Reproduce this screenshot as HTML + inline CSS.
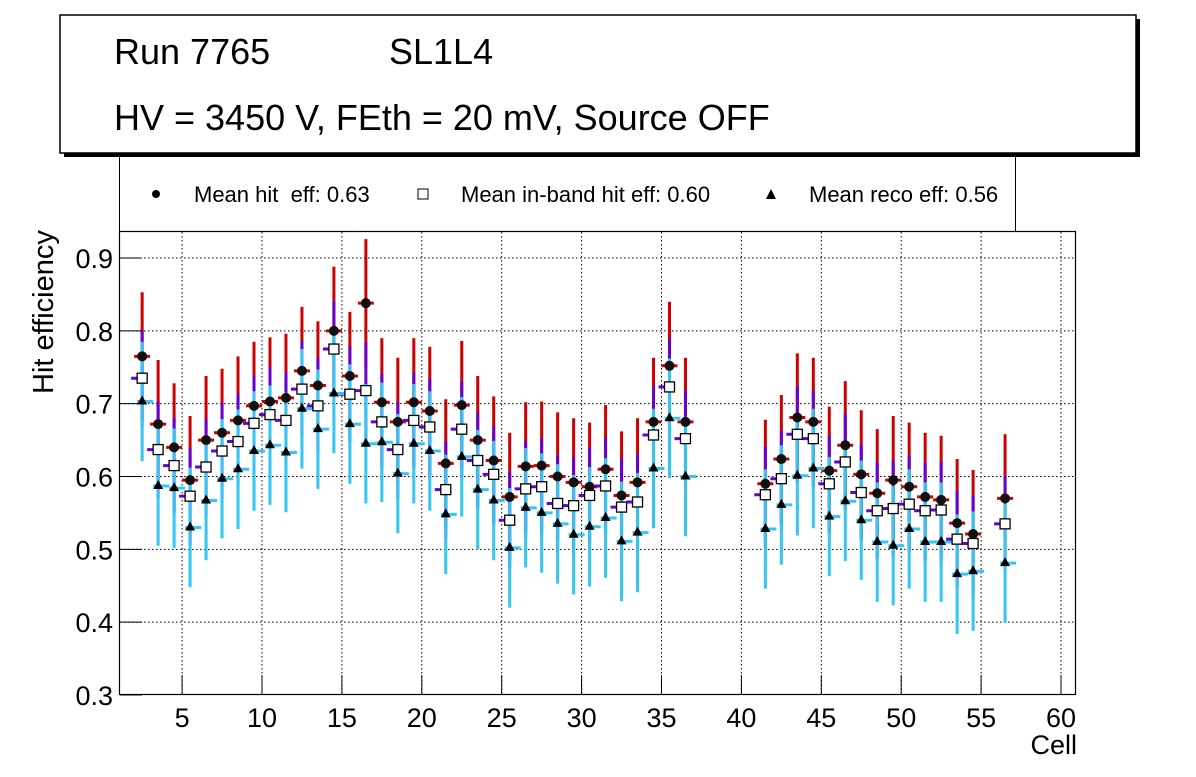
<!DOCTYPE html>
<html><head><meta charset="utf-8"><style>
html,body{margin:0;padding:0;background:#fff;}
svg text{font-family:"Liberation Sans",sans-serif;}
</style></head><body>
<svg id="c" width="1196" height="772" viewBox="0 0 1196 772" xmlns="http://www.w3.org/2000/svg">
<rect x="0" y="0" width="1196" height="772" fill="#fff"/>
<g>
<rect x="64" y="19" width="1076" height="138" fill="#000"/>
<rect x="60" y="15" width="1076" height="138" fill="#fff" stroke="#000" stroke-width="1.5"/>
<text x="114" y="64" font-size="36">Run 7765</text>
<text x="389" y="64" font-size="36">SL1L4</text>
<text x="114" y="130" font-size="36">HV = 3450 V, FEth = 20 mV, Source OFF</text>
</g>
<g>
<path d="M119.5 157 V231.5 H1015.5 V157" fill="none" stroke="#000" stroke-width="1"/>
<g><circle cx="156" cy="194" r="4" fill="#000"/><text x="194" y="202" font-size="22">Mean hit&#160; eff: 0.63</text></g>
<g><rect x="418" y="189" width="10" height="10" fill="#fff" stroke="#000"/><text x="461" y="202" font-size="22">Mean in-band hit eff: 0.60</text></g>
<g><polygon points="771,189 766,199 776,199" fill="#000"/><text x="809" y="202" font-size="22">Mean reco eff: 0.56</text></g>
</g>
<g id="grid"></g>
<g id="marks"></g>
<rect x="119.5" y="231.5" width="956" height="463" fill="none" stroke="#000" stroke-width="1.2"/>
<g id="axes"></g>
<text transform="translate(53,394) rotate(-90)" font-size="29">Hit efficiency</text>
<text x="1077" y="754" font-size="27" text-anchor="end">Cell</text>
</svg>
<script>
const cellsA=[2.5,3.5,4.5,5.5,6.5,7.5,8.5,9.5,10.5,11.5,12.5,13.5,14.5,15.5,16.5,17.5,18.5,19.5,20.5,21.5,22.5,23.5,24.5,25.5,26.5,27.5,28.5,29.5,30.5,31.5,32.5,33.5,34.5,35.5,36.5,41.5,42.5,43.5,44.5,45.5,46.5,47.5,48.5,49.5,50.5,51.5,52.5,53.5,54.5,56.5];
const hitEff=[0.765,0.672,0.64,0.595,0.65,0.66,0.677,0.697,0.703,0.708,0.745,0.725,0.80,0.738,0.838,0.702,0.675,0.702,0.69,0.618,0.698,0.65,0.622,0.572,0.614,0.615,0.60,0.592,0.586,0.61,0.574,0.592,0.675,0.752,0.675,0.59,0.624,0.681,0.675,0.608,0.643,0.603,0.577,0.595,0.586,0.572,0.568,0.536,0.521,0.57];
const inbandEff=[0.735,0.637,0.615,0.573,0.613,0.635,0.648,0.673,0.685,0.677,0.72,0.697,0.775,0.713,0.718,0.675,0.637,0.677,0.668,0.582,0.665,0.622,0.603,0.54,0.583,0.586,0.563,0.56,0.574,0.587,0.558,0.565,0.657,0.723,0.652,0.575,0.597,0.658,0.652,0.59,0.62,0.578,0.553,0.556,0.562,0.553,0.554,0.514,0.508,0.535];
const recoEff=[0.703,0.587,0.584,0.53,0.567,0.597,0.61,0.635,0.643,0.633,0.693,0.665,0.714,0.672,0.645,0.647,0.604,0.645,0.635,0.548,0.627,0.582,0.567,0.502,0.557,0.55,0.535,0.52,0.531,0.543,0.511,0.523,0.611,0.68,0.6,0.528,0.561,0.601,0.611,0.545,0.566,0.54,0.51,0.505,0.528,0.51,0.51,0.466,0.47,0.481];
const hitErr=0.088, inbandErr=0.066, recoErr=0.082;
const xTicks=[5,10,15,20,25,30,35,40,45,50,55,60];
const yTicks=[0.3,0.4,0.5,0.6,0.7,0.8,0.9];
const NS="http://www.w3.org/2000/svg";
function X(v){return 102.2+v*15.98;}
function Y(v){return 695-(v-0.3)*728.3;}
function mk(t,a,p){const e=document.createElementNS(NS,t);for(const k in a)e.setAttribute(k,a[k]);p.appendChild(e);return e;}
const grid=document.getElementById('grid'),axes=document.getElementById('axes'),marks=document.getElementById('marks');
xTicks.forEach(t=>{const x=X(t);
 const g=mk('line',{x1:x,x2:x,y1:232,y2:694,stroke:'#000','stroke-width':1,'stroke-dasharray':'1.5,2.5'},grid);
 
 
 const l=mk('line',{x1:x,x2:x,y1:694,y2:675,stroke:'#000','stroke-width':1},axes);
 
 
 const tx=mk('text',{x:x,y:727,'font-size':27,'text-anchor':'middle'},axes);tx.textContent=t;
 
 
});
yTicks.forEach(t=>{const y=Y(t);
 if(t>0.3){const g=mk('line',{x1:120,x2:1075,y1:y,y2:y,stroke:'#000','stroke-width':1,'stroke-dasharray':'1.5,2.5'},grid);
 
 }
 const l=mk('line',{x1:120,x2:142,y1:y,y2:y,stroke:'#000','stroke-width':1},axes);
 
 
 const tx=mk('text',{x:113,y:y+10,'font-size':27,'text-anchor':'end'},axes);tx.textContent=t.toFixed(1);
 
 
});
const series=[{v:hitEff,e:hitErr,c:'#d00000',dx:0,name:'hit'},{v:inbandEff,e:inbandErr,c:'#6a00d0',dx:-3,name:'inband'},{v:recoEff,e:recoErr,c:'#33c6f5',dx:3,name:'reco'}];
series.forEach(s=>{s.v.forEach((v,i)=>{const x=X(cellsA[i]),y=Y(v);
 const b=mk('line',{x1:x,x2:x,y1:Y(v+s.e),y2:Y(v-s.e),stroke:s.c,'stroke-width':3},marks);
 
 
 const h=mk('line',{x1:x-8+s.dx,x2:x+8+s.dx,y1:y,y2:y,stroke:s.c,'stroke-width':3},marks);
 
 
});});
cellsA.forEach((c,i)=>{const x=X(c);
 const a=mk('circle',{cx:x,cy:Y(hitEff[i]),r:5,fill:'#111'},marks);
 
 
 const b=mk('rect',{x:x-5,y:Y(inbandEff[i])-5,width:10,height:10,fill:'#fff',stroke:'#000','stroke-width':1.3},marks);
 
 
 const yr=Y(recoEff[i]);
 const t=mk('polygon',{points:`${x},${yr-6} ${x-5},${yr+3} ${x+5},${yr+3}`,fill:'#000'},marks);
 
 
});
</script>
</body></html>
